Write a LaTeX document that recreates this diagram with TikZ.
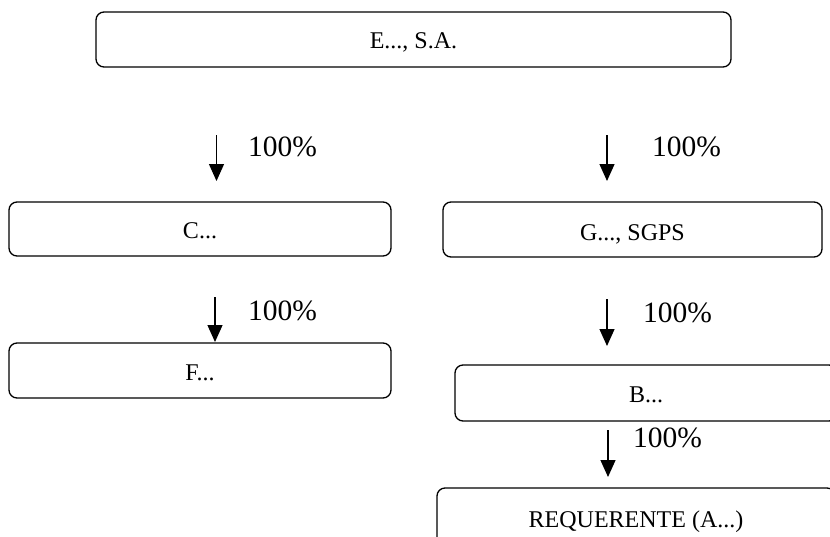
\documentclass[tikz,border=0pt]{standalone}
\usepackage{fontspec}
\setmainfont{Liberation Serif}
\usetikzlibrary{arrows.meta}

\tikzset{
  entity/.style={draw, line width=1.3pt, rounded corners=8pt, rectangle,
    inner sep=0pt, font=\fontsize{24}{28}\selectfont, text depth=0pt},
  share/.style={inner sep=0pt, anchor=west, font=\fontsize{29.5}{34}\selectfont,
    text height=19.9pt, text depth=0pt},
  own/.style={line width=1.3pt, -{Triangle[length=17pt,width=15pt]}},
}

\begin{document}
\begin{tikzpicture}[x=1pt, y=-1pt]
\useasboundingbox (0,0) rectangle (830,536);
\clip (0,0) rectangle (830,536);

% companies (text height shifts the caption inside each box)
\node[entity, minimum width=635pt, minimum height=55pt, text height=17.9pt]
  (e) at (413.5,39.5) {E..., S.A.};
\node[entity, minimum width=382pt, minimum height=54pt, text height=18.9pt]
  (c) at (200,229) {C...};
\node[entity, minimum width=379pt, minimum height=55pt, text height=22.9pt]
  (g) at (632.5,229.5) {G..., SGPS};
\node[entity, minimum width=382pt, minimum height=55pt, text height=19.9pt]
  (f) at (200,370.5) {F...};
\node[entity, minimum width=382pt, minimum height=56pt, text height=19.9pt]
  (b) at (646,393) {B...};
\node[entity, minimum width=398pt, minimum height=64pt, text height=15.9pt]
  (r) at (636,520) {REQUERENTE (A...)};

% ownership arrows
\coordinate (a1s) at (216.5,135); \coordinate (a1e) at (216.5,181);
\coordinate (a2s) at (607,135);   \coordinate (a2e) at (607,181);
\coordinate (a3s) at (215,297);   \coordinate (a3e) at (215,342);
\coordinate (a4s) at (607,299);   \coordinate (a4e) at (607,346);
\coordinate (a5s) at (608,430);   \coordinate (a5e) at (608,477);
\draw[own] (a1s) -- (a1e);
\draw[own] (a2s) -- (a2e);
\draw[own] (a3s) -- (a3e);
\draw[own] (a4s) -- (a4e);
\draw[own] (a5s) -- (a5e);

% percentages
\node[share] (p1) at (248,147) {100\%};
\node[share] (p2) at (652,147) {100\%};
\node[share] (p3) at (248,311) {100\%};
\node[share] (p4) at (643,313) {100\%};
\node[share] (p5) at (633,438) {100\%};
\end{tikzpicture}
\end{document}
